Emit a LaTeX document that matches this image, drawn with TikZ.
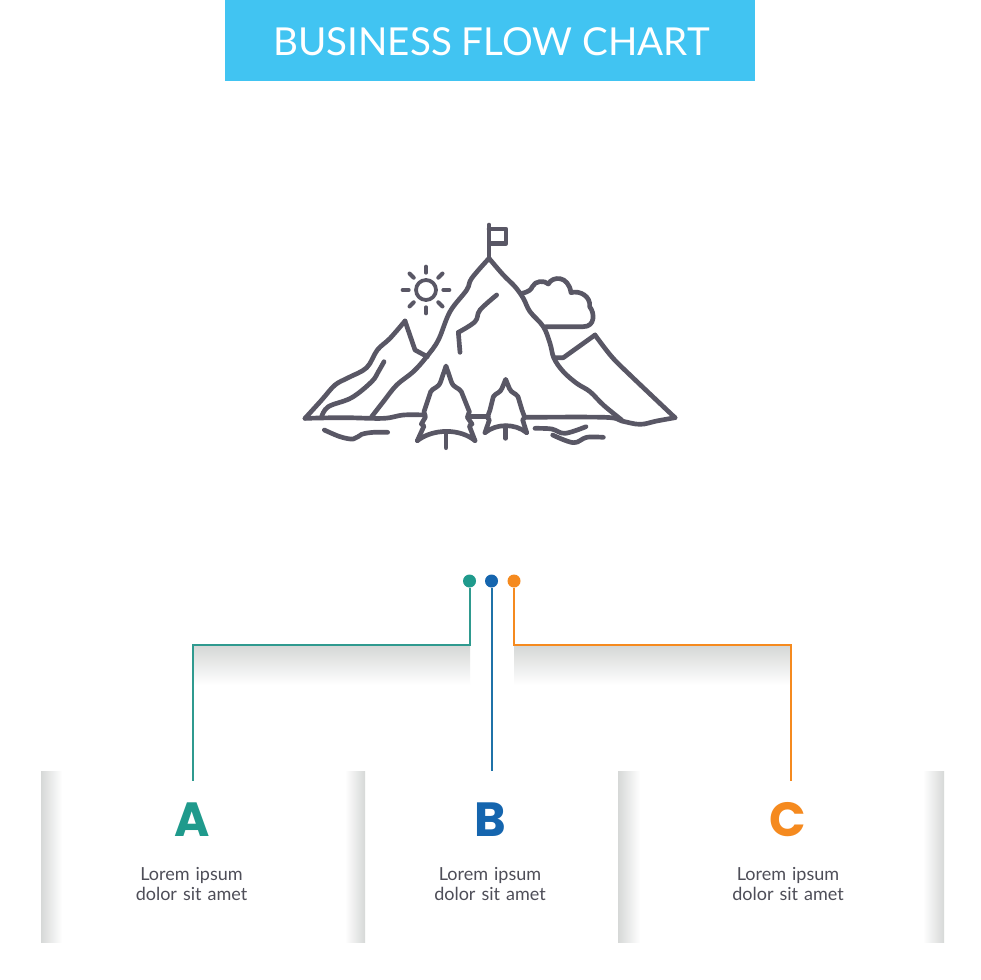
\documentclass[tikz,border=0pt]{standalone}
\usepackage{fontspec}
\setmainfont{Lato}
\definecolor{barblue}{HTML}{41C4F2}
\definecolor{ink}{HTML}{595765}
\definecolor{labelink}{HTML}{4E4E58}
\definecolor{teal}{HTML}{1F9A8C}
\definecolor{tealline}{HTML}{2F9A8F}
\definecolor{blued}{HTML}{1565AE}
\definecolor{blueline}{HTML}{1F72A8}
\definecolor{orangec}{HTML}{F58A1F}
\definecolor{shadeg}{HTML}{D6D8D7}
\tikzset{
  icon/.style={draw=ink,line width=3.5pt,line cap=round,line join=round},
  dotmark/.style={circle,inner sep=0pt,minimum size=9.75pt},
  cline/.style={line width=1.5pt},
  bigletter/.style={font=\fontsize{36}{36}\fontspec{Poppins}\bfseries},
  caption/.style={font=\fontsize{13.5}{15.4}\selectfont,text=labelink,align=center,text width=130pt},
}
\newcommand{\smoothpath}[1]{\draw[icon] plot[smooth,tension=.6] coordinates {#1};}
\begin{document}
\begin{tikzpicture}[x=.75pt,y=-.75pt]
\useasboundingbox (0,0) rectangle (980,980);
\fill[white] (0,0) rectangle (980,980);
% title
\fill[barblue] (225,0) rectangle (755,81);
\node[font=\fontsize{28.9}{30}\selectfont,text=white,inner sep=0pt] (title) at (491.5,42) {BUSINESS FLOW CHART};
% shadows beneath connectors
\shade[top color=shadeg,bottom color=white] (193,646) rectangle (470,685);
\shade[top color=shadeg,bottom color=white] (514,646) rectangle (791,685);
% panels
\shade[left color=shadeg,right color=white] (41,771) rectangle (62,942);
\shade[left color=white,right color=shadeg] (345,771) rectangle (365,942);
\shade[left color=shadeg,right color=white] (618,771) rectangle (640,942);
\shade[left color=white,right color=shadeg] (923,771) rectangle (944,942);
% dots
\node[dotmark,fill=teal] (da) at (469.5,581) {};
\node[dotmark,fill=blued] (db) at (491.5,581) {};
\node[dotmark,fill=orangec] (dc) at (514,581) {};
% letters and captions
\node[bigletter,text=teal,inner sep=0pt] (la) at (192,820) {A};
\node[bigletter,text=blued,inner sep=0pt] (lb) at (490,820) {B};
\node[bigletter,text=orangec,inner sep=0pt] (lc) at (788,820) {C};
\node[caption] (ta) at (191.5,884) {Lorem ipsum\\dolor sit amet};
\node[caption] (tb) at (490,884) {Lorem ipsum\\dolor sit amet};
\node[caption] (tc) at (788,884) {Lorem ipsum\\dolor sit amet};
% connector ends
\coordinate (ea) at (193,781);
\coordinate (eb) at (491.5,771);
\coordinate (ec) at (791,781);
\draw[cline,tealline] (da) -- (da |- 0,645) -- (ea |- 0,645) -- (ea);
\draw[cline,blueline] (db) -- (eb);
\draw[cline,orangec] (dc) -- (dc |- 0,645) -- (ec |- 0,645) -- (ec);
% icon, left half (coordinates of a 3x crop at 290,215)
\begin{scope}[shift={(290,215)},x=.25pt,y=-.25pt]
\smoothpath{(45,610)(95,555)(135,510)(175,488)(230,458)(262,405)(300,370)(345,318)}
\draw[icon] (345,318) -- (375,405) -- (412,425);
\smoothpath{(245,605)(280,560)(320,510)(370,470)(410,425)(445,375)(480,290)(530,225)(545,190)(597,130)}
\smoothpath{(95,605)(115,575)(185,548)(245,500)(265,470)(282,440)}
\smoothpath{(45,610)(160,608)(280,610)(340,600)(405,600)}
\smoothpath{(103,645)(150,665)(190,672)(215,658)(250,652)(293,652)}
\smoothpath{(620,240)(570,285)(555,320)(505,352)}
\draw[icon] (505,352) -- (510,412);
% sun
\draw[icon,line width=2.8pt] (408,225) circle (30);
\foreach \a in {0,45,...,315}{\draw[icon,line width=3pt] (408,225) ++(\a:52) -- ++(\a:18);}
\end{scope}
% trees (coordinates of a 3x crop at 410,360)
\begin{scope}[shift={(410,360)},x=.25pt,y=-.25pt]
\draw[icon] (22,242) -- (42,198) -- (34,192) -- (46,172) -- (42,155) -- (62,95) .. controls (70,82) and (85,85) .. (92,65) -- (108,18) -- (124,65) .. controls (131,85) and (146,82) .. (154,95) -- (178,155) -- (172,172) -- (186,192) -- (178,198) -- (195,242);
\draw[icon] (22,242) .. controls (70,205) and (150,205) .. (195,242);
\draw[icon] (108,215) -- (108,263);
\draw[icon] (0,165) -- (38,165);
\draw[icon] (182,170) -- (235,170);
\draw[icon] (225,218) -- (238,180) -- (232,172) -- (240,150) -- (250,110) .. controls (258,98) and (270,100) .. (276,85) -- (287,58) -- (298,85) .. controls (304,100) and (316,98) .. (324,110) -- (336,150) -- (344,172) -- (338,180) -- (350,218);
\draw[icon] (225,218) .. controls (260,190) and (315,190) .. (350,218);
\draw[icon] (287,198) -- (287,235);
\end{scope}
% icon, right half (coordinates of a 3x crop at 480,215)
\begin{scope}[shift={(480,215)},x=.25pt,y=-.25pt]
\draw[icon] (27,130) -- (27,30);
\draw[icon] (27,42) -- (78,42) -- (78,85) -- (30,85);
\smoothpath{(27,130)(70,180)(105,215)(130,250)(150,290)(190,335)(210,385)(222,430)(250,470)(290,505)(330,530)(370,570)(425,615)}
\draw[icon] (222,428) -- (250,428) -- (345,360);
\smoothpath{(345,360)(395,425)(450,480)(585,608)}
\smoothpath{(135,607)(375,607)(425,618)(480,628)(530,618)(585,608)}
\smoothpath{(165,640)(215,642)(255,655)(318,635)}
\smoothpath{(218,660)(280,683)(320,667)(370,667)}
\end{scope}
% cloud (coordinates of a 3x crop at 515,270)
\begin{scope}[shift={(515,270)},x=.25pt,y=-.25pt]
\draw[icon] (22,70) .. controls (40,65) and (48,60) .. (52,50) .. controls (60,32) and (88,30) .. (100,42) .. controls (112,18) and (160,15) .. (168,68) .. controls (195,60) and (228,80) .. (224,110) .. controls (240,130) and (240,170) .. (205,170) -- (92,170);
\end{scope}
\end{tikzpicture}
\end{document}
